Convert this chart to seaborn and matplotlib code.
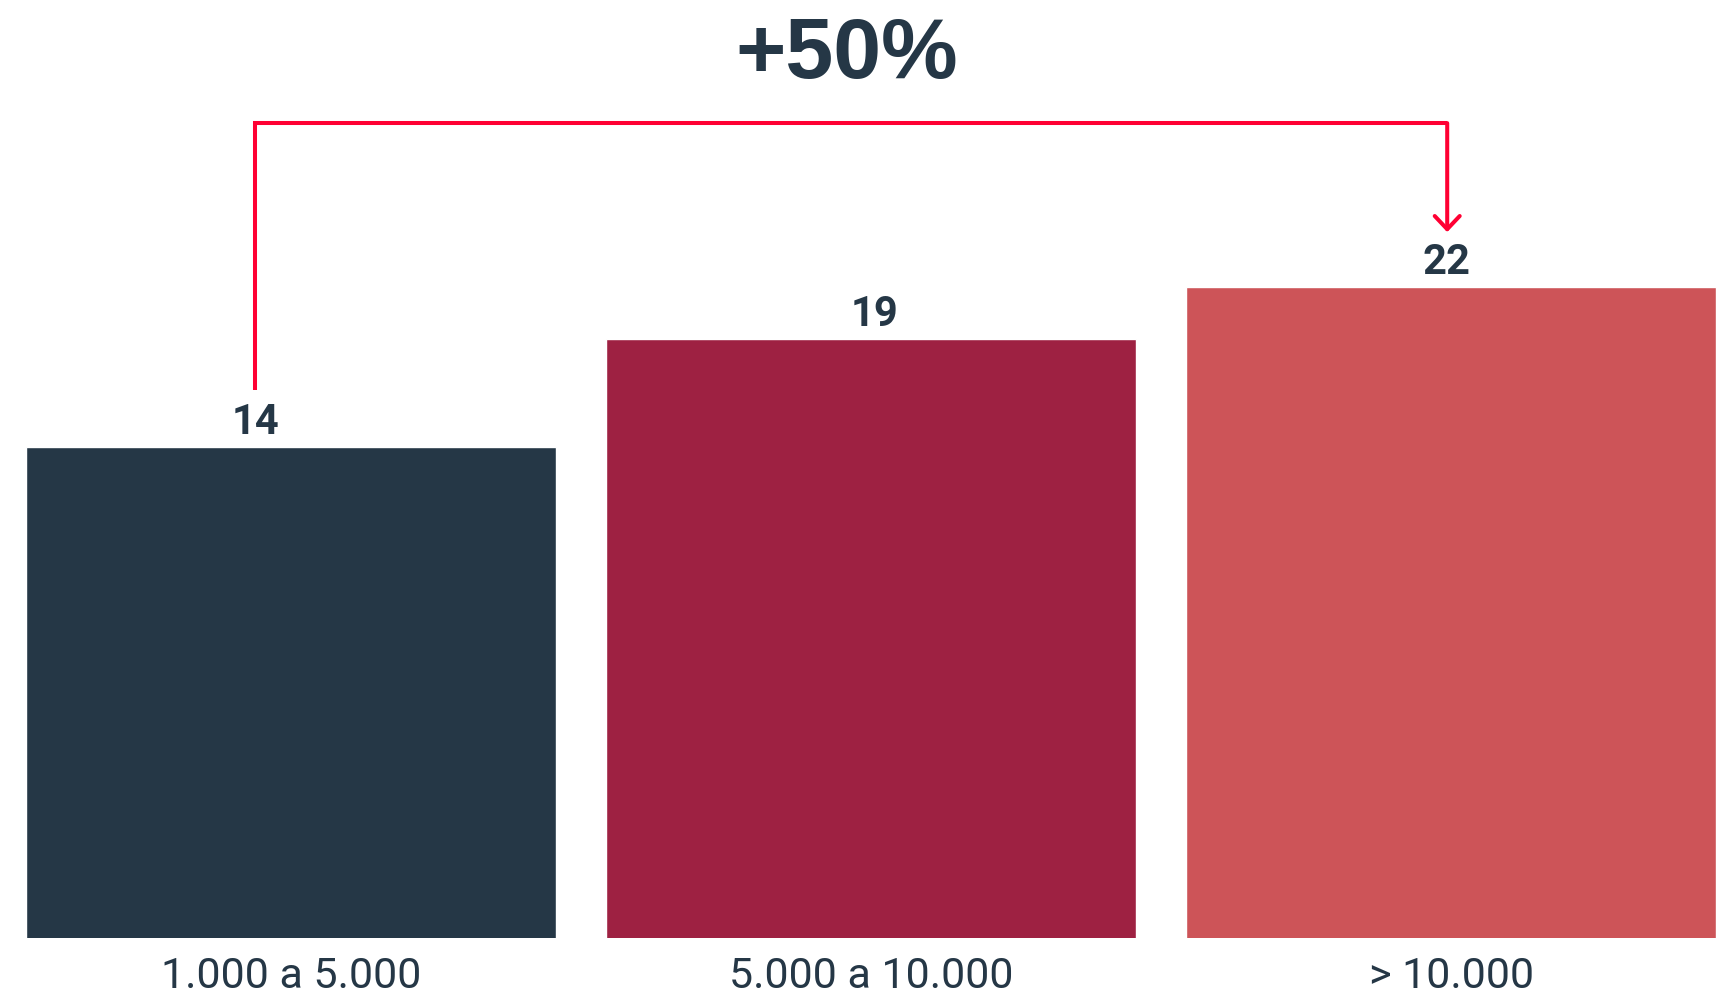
import matplotlib
matplotlib.use('Agg')
import matplotlib.pyplot as plt
import seaborn as sns

# datos
categories = ['1.000 a 5.000', '5.000 a 10.000', '> 10.000']
values = [14, 19, 22]
bar_colors = ['#253746', '#9E2142', '#CD5458']
change_label = '+50%'

navy = '#253746'
red = '#FF0033'
PX = 72 / 100  # pixels -> points

sns.set_theme(style='white')
plt.rcParams['font.family'] = ['Roboto', 'DejaVu Sans']

fig = plt.figure(figsize=(17.36, 9.96), dpi=100)
ax = fig.add_axes([0, 58 / 996, 1, 938 / 996])

sns.barplot(x=categories, y=values, hue=categories, palette=bar_colors,
            legend=False, width=0.914, saturation=1, ax=ax)
ax.set_yscale('log')
ax.set_ylim(3.5, 49.5)
ax.set_xlim(-0.502, 2.491)
sns.despine(ax=ax, left=True, bottom=True)
ax.set_xlabel('')
ax.set_ylabel('')
ax.tick_params(axis='y', which='both', left=False, labelleft=False)
ax.tick_params(axis='x', length=0, pad=13, labelsize=31, labelcolor=navy)
for t in ax.get_xticklabels():
    t.set_fontweight('normal')

# etiquetas de valor
label_dx = [-36, 3, -5]
for i, v in enumerate(values):
    ax.annotate(str(v), xy=(i, v), xytext=(label_dx[i] * PX, 13 * PX),
                textcoords='offset points', ha='center', va='baseline',
                fontsize=30, fontweight='bold', color=navy)


def shift(x, v, dx, dy):
    X, Y = ax.transData.transform((x, v))
    return ax.transData.inverted().transform((X + dx, Y + dy))


# flecha de cambio
x0, y0 = shift(0, values[0], -36, 57)
x1, ytip = shift(2, values[2], -4, 55)
ytop = shift(2, values[2], 0, 164)[1]
ax.plot([x0, x0, x1], [y0, ytop, ytop], color=red, lw=2.9,
        solid_joinstyle='miter', solid_capstyle='butt', clip_on=False)
ax.annotate('', xy=(x1, ytip), xytext=(x1, ytop),
            arrowprops=dict(arrowstyle='->,head_length=0.95,head_width=0.9',
                            color=red, lw=2.9, shrinkA=0, shrinkB=0,
                            mutation_scale=10))

fig.text(847 / 1736, 1 - 78 / 996, change_label, ha='center', va='baseline',
         fontsize=62, fontweight='bold', family=['Liberation Sans'], color=navy)

fig.savefig('out.png', dpi=100, facecolor='white')
